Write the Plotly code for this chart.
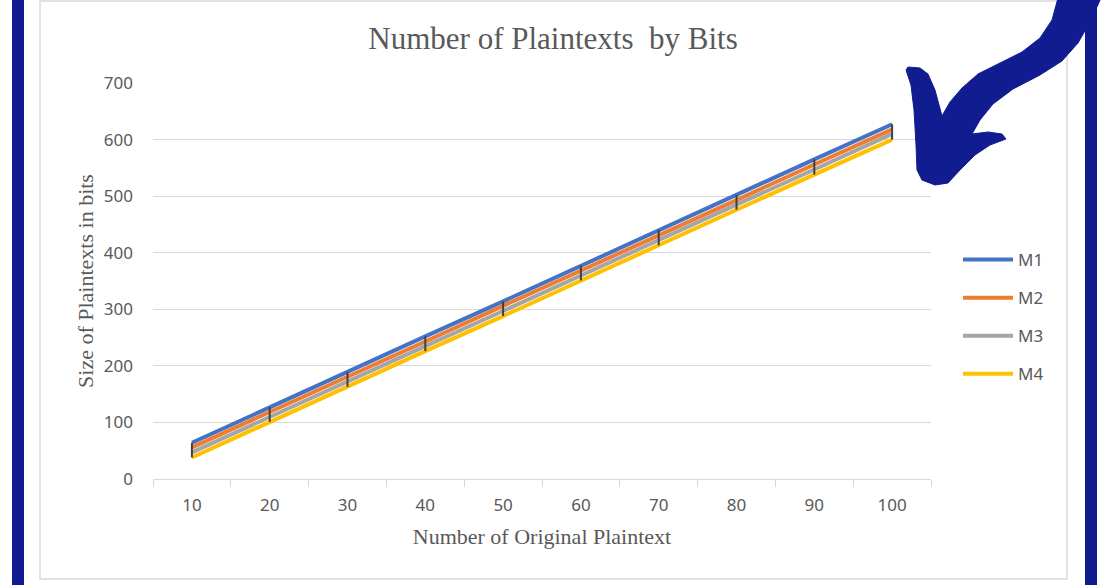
import plotly.graph_objects as go

# ---- data ----
categories = ["10", "20", "30", "40", "50", "60", "70", "80", "90", "100"]
m1 = [64, 127, 189, 252, 314, 377, 440, 502, 565, 627]
m2 = [56, 118, 181, 243, 306, 368, 431, 493, 556, 618]
m3 = [47, 110, 172, 235, 297, 360, 422, 485, 547, 610]
m4 = [38, 101, 163, 226, 288, 351, 413, 476, 538, 600]
series_names = ["M1", "M2", "M3", "M4"]
series_values = [m1, m2, m3, m4]
series_colors = ["#4472C4", "#ED7D31", "#A5A5A5", "#FFC000"]
y_ticks = [0, 100, 200, 300, 400, 500, 600, 700]

W, H = 1111, 585
L, R, T, B = 153, 931, 83, 479  # plot area in pixels


def px(x):
    return (x - L) / (R - L)


def py(y):
    return (B - y) / (B - T)


fig = go.Figure()
for i, (name, vals, col) in enumerate(zip(series_names, series_values, series_colors)):
    fig.add_trace(go.Scatter(
        x=categories, y=vals, name=name, mode="lines",
        line=dict(color=col, width=4), legendgroup=name,
    ))

# high-low lines
hx, hy = [], []
for c, hi, lo in zip(categories, m1, m4):
    hx += [c, c, None]
    hy += [hi, lo, None]
fig.add_trace(go.Scatter(x=hx, y=hy, mode="lines", showlegend=False,
                         line=dict(color="#404040", width=2), hoverinfo="skip"))

navy = "#121C91"
shapes = []
# chart border
shapes.append(dict(type="rect", xref="paper", yref="paper",
                   x0=px(40), x1=px(1067), y0=py(579), y1=py(1),
                   line=dict(color="#D9D9D9", width=1.5), layer="below"))
# side bars
for x0, x1 in [(12, 24), (1085, 1097)]:
    shapes.append(dict(type="rect", xref="paper", yref="paper",
                       x0=px(x0), x1=px(x1), y0=py(590), y1=py(-5),
                       line=dict(width=0), fillcolor=navy, layer="above"))
# arrow
arrow_pts = [
    (1058, -2), (1052, 20), (1040, 38), (1022, 52), (1000, 63), (978, 74),
    (962, 88), (950, 102), (942, 116),
    (935, 90), (928, 74), (920, 68), (908, 67), (906, 70), (911, 85), (914, 110),
    (916, 145), (917, 170), (922, 180), (935, 185), (948, 183), (960, 170),
    (975, 155), (990, 145), (1006, 139), (1002, 134), (988, 132), (972, 134),
    (980, 120), (993, 104), (1013, 89), (1040, 75), (1062, 61), (1078, 43),
    (1090, 22), (1101, -2),
]
path = "M " + " L ".join(f"{px(a):.5f},{py(b):.5f}" for a, b in arrow_pts) + " Z"
shapes.append(dict(type="path", xref="paper", yref="paper", path=path,
                   fillcolor=navy, line=dict(color=navy, width=1), layer="above"))

fig.update_layout(
    width=W, height=H,
    margin=dict(l=L, r=W - R, t=T, b=H - B, pad=0),
    paper_bgcolor="white", plot_bgcolor="white",
    title=dict(text="Number of Plaintexts  by Bits", x=553 / W, xanchor="center",
               y=1 - 38 / H, yanchor="middle",
               font=dict(family="Liberation Serif", size=31, color="#595959")),
    xaxis=dict(
        type="category", tickson="boundaries", ticks="outside", ticklen=7,
        tickcolor="#D9D9D9", showline=True, linecolor="#D9D9D9", linewidth=1,
        showgrid=False, range=[-0.5, 9.5], ticklabelstandoff=11,
        tickfont=dict(family="Noto Sans", size=17, color="#595959"),
        title=dict(text="Number of Original Plaintext", standoff=13,
                   font=dict(family="Liberation Serif", size=22, color="#595959")),
    ),
    yaxis=dict(
        range=[0, 700], tickvals=y_ticks, showgrid=True, gridcolor="#D9D9D9",
        gridwidth=1, zeroline=False, showline=False, ticks="",
        ticklabelstandoff=19,
        tickfont=dict(family="Noto Sans", size=17, color="#595959"),
        title=dict(text="Size of Plaintexts in bits", standoff=4,
                   font=dict(family="Liberation Serif", size=22, color="#595959")),
    ),
    legend=dict(x=px(958), xanchor="left", y=py(242), yanchor="top",
                font=dict(family="Noto Sans", size=17, color="#595959"),
                tracegroupgap=13, itemwidth=50, bgcolor="rgba(0,0,0,0)"),
    shapes=shapes,
    showlegend=True,
)

fig.write_html("out.html", config={"displayModeBar": False},
               post_script="document.body.style.margin='0';")
